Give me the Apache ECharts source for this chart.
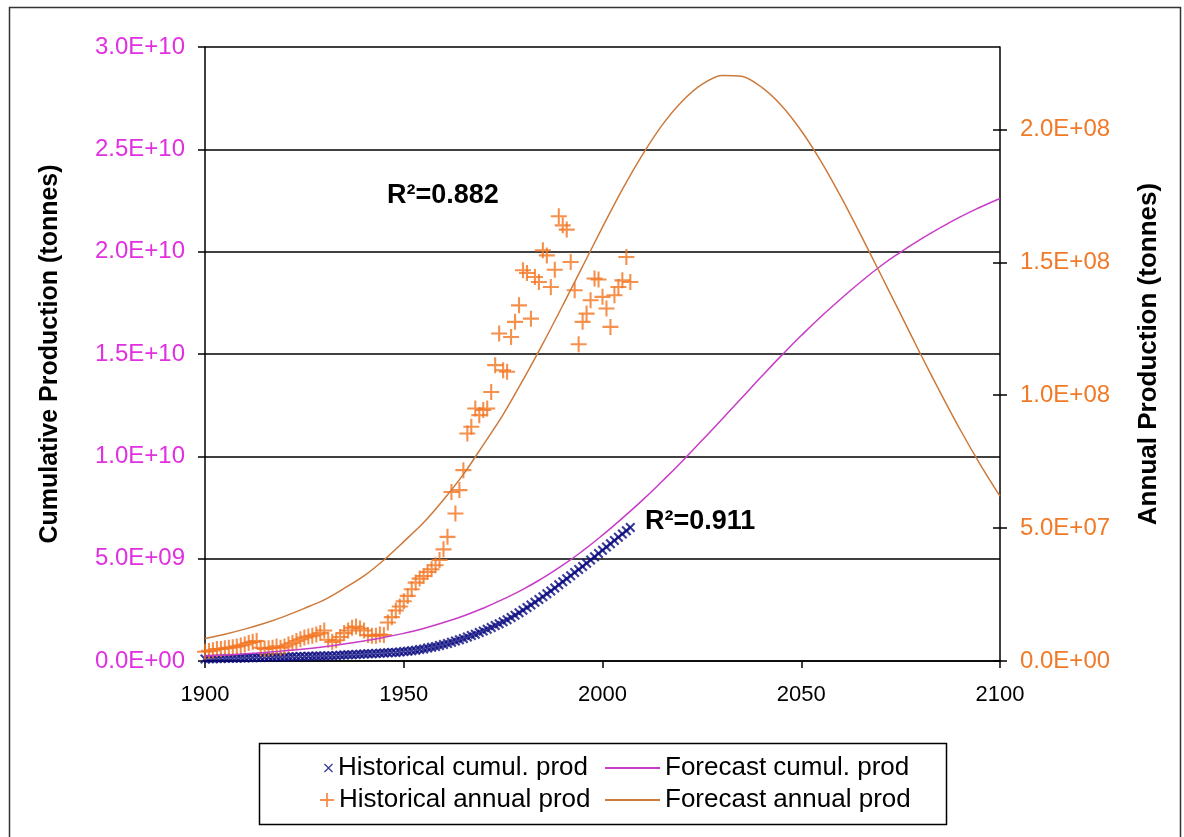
<!DOCTYPE html>
<html>
<head>
<meta charset="utf-8">
<script src="https://cdn.jsdelivr.net/npm/echarts@6/dist/echarts.min.js"></script>
<style>
html,body{margin:0;padding:0;background:#fff;}
#chart{width:1184px;height:837px;}
</style>
</head>
<body>
<div id="chart"></div>
<script>
// ---------------- DATA ----------------
const histStartYear = 1900;
// Historical annual production, million tonnes (1900..2007)
const histAnnualMt = [
  3.5, 3.8, 4.0, 4.5, 4.5, 4.8, 5.0, 5.2, 5.5, 5.8,
  6.2, 6.8, 7.2, 7.5, 5.0, 4.5, 4.8, 5.0, 5.5, 5.0,
  5.5, 6.2, 6.8, 7.5, 8.2, 8.8, 9.2, 9.5, 10.0, 10.5,
  11.5, 8.0, 7.2, 7.8, 9.0, 10.5, 11.5, 12.5, 13.0, 12.2,
  11.5, 9.8, 9.5, 9.5, 10.0, 9.8, 14.5, 16.5, 19.0, 20.5,
  22.5, 24.5, 27.0, 29.5, 31.0, 32.0, 33.5, 34.5, 36.0, 38.0,
  42.0, 46.7, 63.6, 55.5, 64.3, 71.8, 85.6, 88.1, 95.0, 92.5,
  94.4, 95.0, 101.2, 111.3, 123.2, 109.4, 108.8, 121.9, 127.6, 133.8,
  147.0, 146.0, 128.8, 144.5, 142.6, 154.5, 152.6, 140.7, 147.2, 167.3,
  163.9, 162.3, 150.1, 139.5, 119.2, 127.6, 130.7, 135.7, 143.9, 143.5,
  137.0, 132.6, 125.7, 137.6, 140.7, 143.2, 152.0, 142.6
];
// Historical cumulative production, billion tonnes (1900..2007)
const histCumulGt = [
  0.10, 0.11, 0.11, 0.12, 0.12, 0.13, 0.13, 0.14, 0.14, 0.15,
  0.15, 0.16, 0.16, 0.17, 0.17, 0.18, 0.18, 0.18, 0.19, 0.19,
  0.20, 0.20, 0.21, 0.21, 0.22, 0.22, 0.23, 0.23, 0.24, 0.24,
  0.25, 0.26, 0.26, 0.27, 0.28, 0.29, 0.30, 0.31, 0.32, 0.33,
  0.34, 0.35, 0.36, 0.37, 0.38, 0.39, 0.40, 0.41, 0.42, 0.44,
  0.46, 0.48, 0.50, 0.53, 0.56, 0.59, 0.63, 0.67, 0.71, 0.76,
  0.81, 0.86, 0.92, 0.98, 1.04, 1.10, 1.17, 1.24, 1.31, 1.39,
  1.47, 1.55, 1.64, 1.73, 1.82, 1.92, 2.02, 2.13, 2.24, 2.36,
  2.48, 2.61, 2.74, 2.87, 3.00, 3.14, 3.28, 3.42, 3.57, 3.72,
  3.87, 4.02, 4.17, 4.32, 4.47, 4.62, 4.77, 4.93, 5.09, 5.25,
  5.41, 5.57, 5.73, 5.89, 6.05, 6.21, 6.37, 6.52
];
// Forecast curves (read every 5 years)
const forecastYears = [
  1900, 1905, 1910, 1915, 1920, 1925, 1930, 1935, 1940, 1945,
  1950, 1955, 1960, 1965, 1970, 1975, 1980, 1985, 1990, 1995,
  2000, 2005, 2010, 2015, 2020, 2025, 2030, 2035, 2040, 2045,
  2050, 2055, 2060, 2065, 2070, 2075, 2080, 2085, 2090, 2095, 2100
];
const forecastAnnualMt = [
  8.5, 10.1, 12.0, 14.2, 16.8, 19.8, 23.0, 27.3, 32.0, 38.0,
  44.9, 52.1, 60.7, 70.2, 81.3, 92.7, 105.7, 119.4, 133.8, 148.5,
  163.2, 177.4, 190.3, 201.6, 210.5, 216.9, 220.3, 220.0, 215.9, 209.0,
  199.5, 187.9, 174.6, 160.2, 145.4, 130.5, 115.5, 101.0, 87.0, 74.0, 62.0
];
const forecastCumulGt = [
  0.25, 0.29, 0.35, 0.42, 0.50, 0.59, 0.70, 0.83, 0.98, 1.15,
  1.35, 1.59, 1.88, 2.20, 2.58, 3.02, 3.50, 4.06, 4.68, 5.38,
  6.15, 6.98, 7.85, 8.78, 9.75, 10.77, 11.8, 12.85, 13.9, 14.92,
  15.9, 16.83, 17.7, 18.53, 19.3, 19.98, 20.6, 21.17, 21.7, 22.17, 22.6
];

const xTicks = [1900, 1950, 2000, 2050, 2100];
const leftTicks = [0, 5e9, 1e10, 1.5e10, 2e10, 2.5e10, 3e10];
const rightTicks = [0, 5e7, 1e8, 1.5e8, 2e8];
const rightMax = 2.31e8;
const r2Labels = ['R\u00B2=0.882', 'R\u00B2=0.911'];
const seriesNames = ['Historical cumul. prod', 'Historical annual prod', 'Forecast cumul. prod', 'Forecast annual prod'];
const axisTitles = ['Cumulative Production (tonnes)', 'Annual Production (tonnes)'];

// ---------------- BUILD ----------------
const histCumulData = histCumulGt.map((v, i) => [histStartYear + i, v * 1e9]);
const histAnnualData = histAnnualMt.map((v, i) => [histStartYear + i, v * 1e6]);
const fcCumulData = forecastYears.map((y, i) => [y, forecastCumulGt[i] * 1e9]);
const fcAnnualData = forecastYears.map((y, i) => [y, forecastAnnualMt[i] * 1e6]);

function sci(v) {
  if (v === 0) return '0.0E+00';
  const e = Math.floor(Math.log10(v) + 1e-9);
  const m = v / Math.pow(10, e);
  return m.toFixed(1) + 'E+' + String(e).padStart(2, '0');
}

const FONT = 'Liberation Sans, Arial, Helvetica, sans-serif';
const xPath = 'path://M0,1.5L1.5,0L5,3.5L8.5,0L10,1.5L6.5,5L10,8.5L8.5,10L5,6.5L1.5,10L0,8.5L3.5,5Z';
const xPathThin = 'path://M0,1L1,0L5,4L9,0L10,1L6,5L10,9L9,10L5,6L1,10L0,9L4,5Z';
const plusPath = 'path://M4.35,0H5.65V4.35H10V5.65H5.65V10H4.35V5.65H0V4.35H4.35Z';
const C_NAVY = '#0a0a80';
const C_ORANGE = '#f27420';
const C_FC_CUMUL = '#c83cc8';
const C_FC_ANNUAL = '#cd7a3c';
const C_LEFT_LBL = '#e030e0';
const C_RIGHT_LBL = '#f07a28';

const chart = echarts.init(document.getElementById('chart'), null, {renderer: 'canvas'});

function legendItem(name, icon, left, top, w, h) {
  return {
    show: true, orient: 'horizontal', left: left, top: top, padding: 0,
    itemWidth: w, itemHeight: h, itemGap: 0,
    textStyle: {fontFamily: FONT, fontSize: 26, color: '#000'},
    selectedMode: false,
    data: [{name: name, icon: icon}]
  };
}

const option = {
  backgroundColor: '#fff',
  animation: false,
  grid: {left: 205, right: 184, top: 47, bottom: 176, containLabel: false},
  legend: [
    legendItem(seriesNames[0], xPathThin, 324, 755, 9, 9),
    legendItem(seriesNames[1], plusPath, 320, 787, 14, 14),
    legendItem(seriesNames[2], 'rect', 605, 755, 55, 2),
    legendItem(seriesNames[3], 'rect', 605, 787, 55, 2)
  ],
  xAxis: {
    type: 'value', min: 1900, max: 2100, interval: 50,
    axisLine: {show: true, onZero: false, lineStyle: {color: '#000', width: 1.5}},
    axisTick: {show: true, length: 7, lineStyle: {color: '#000', width: 1.5}, customValues: xTicks},
    axisLabel: {fontFamily: FONT, fontSize: 22, color: '#000', margin: 23, customValues: xTicks,
      formatter: v => String(v)},
    splitLine: {show: false}
  },
  yAxis: [
    {
      type: 'value', position: 'left', min: 0, max: 3e10, interval: 5e9,
      name: axisTitles[0], nameLocation: 'middle', nameRotate: 90, nameGap: 142,
      nameTextStyle: {fontFamily: FONT, fontSize: 25, fontWeight: 'bold', color: '#000'},
      axisLine: {show: true, lineStyle: {color: '#000', width: 1.5}},
      axisTick: {show: true, length: 7, lineStyle: {color: '#000', width: 1.5}, customValues: leftTicks},
      axisLabel: {fontFamily: FONT, fontSize: 24, color: C_LEFT_LBL, margin: 20, formatter: sci, customValues: leftTicks},
      splitLine: {show: true, lineStyle: {color: '#000', width: 1.5}}
    },
    {
      type: 'value', position: 'right', min: 0, max: rightMax, interval: 5e7,
      name: axisTitles[1], nameLocation: 'middle', nameRotate: 90, nameGap: 136,
      nameTextStyle: {fontFamily: FONT, fontSize: 26, fontWeight: 'bold', color: '#000'},
      axisLine: {show: true, lineStyle: {color: '#000', width: 1.5}},
      axisTick: {show: true, length: 7, lineStyle: {color: '#000', width: 1.5}, customValues: rightTicks},
      axisLabel: {fontFamily: FONT, fontSize: 24, color: C_RIGHT_LBL, margin: 20,
        formatter: v => (Math.abs(v / 5e7 - Math.round(v / 5e7)) < 1e-6 ? sci(v) : ''), customValues: rightTicks},
      splitLine: {show: false}
    },
    {
      type: 'value', position: 'right', min: 0, max: rightMax, interval: 5e7,
      axisLine: {show: false},
      axisTick: {show: true, inside: true, length: 7, lineStyle: {color: '#000', width: 1.5}, customValues: rightTicks},
      axisLabel: {show: false},
      splitLine: {show: false}
    }
  ],
  series: [
    {
      name: seriesNames[0], type: 'scatter', yAxisIndex: 0, data: histCumulData,
      symbol: xPath, symbolSize: 10, itemStyle: {color: C_NAVY}, z: 2
    },
    {
      name: seriesNames[1], type: 'scatter', yAxisIndex: 1, data: histAnnualData,
      symbol: plusPath, symbolSize: 16, itemStyle: {color: C_ORANGE}, z: 3
    },
    {
      name: seriesNames[2], type: 'line', yAxisIndex: 0, data: fcCumulData,
      smooth: true, symbol: 'none', showSymbol: false,
      lineStyle: {color: C_FC_CUMUL, width: 1.5}, itemStyle: {color: C_FC_CUMUL}, z: 4
    },
    {
      name: seriesNames[3], type: 'line', yAxisIndex: 1, data: fcAnnualData,
      smooth: 0.3, symbol: 'none', showSymbol: false,
      lineStyle: {color: C_FC_ANNUAL, width: 1.5}, itemStyle: {color: C_FC_ANNUAL}, z: 5
    }
  ],
  graphic: [
    {type: 'rect', left: 7, top: 5, shape: {width: 1171, height: 845}, style: {fill: 'none', stroke: '#333', lineWidth: 1.5}, silent: true, z: -10},
    {type: 'rect', left: 257, top: 741, shape: {width: 687, height: 81}, style: {fill: 'none', stroke: '#000', lineWidth: 1.5}, silent: true},
    {type: 'text', left: 387, top: 182, style: {text: r2Labels[0], font: 'bold 27px ' + FONT, fill: '#000'}, z: 10},
    {type: 'text', left: 645, top: 508, style: {text: r2Labels[1], font: 'bold 27px ' + FONT, fill: '#000'}, z: 10}
  ]
};
chart.setOption(option);
</script>
</body>
</html>
